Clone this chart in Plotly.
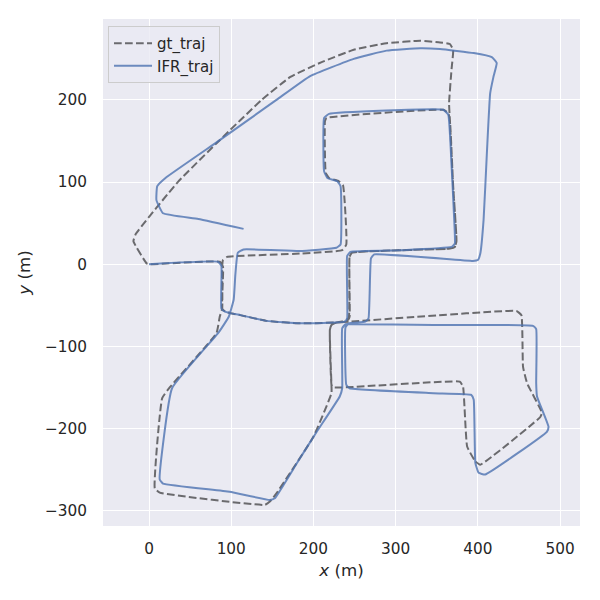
import plotly.graph_objects as go

# ground-truth trajectory (m)
gt_x = [0, 86, 90, 89, 93, 111, 143, 184, 238, 243, 244, 247, 306, 366, 372, 374, 370, 366, 364, 358,
        216, 214, 215, 219, 231, 236, 240, 235, 184, 107, 95, 90, 89, 89, 86, 82, 26, 16, 7, 13,
        141, 147, 155, 200, 222, 222, 220, 222, 228, 244, 326, 447, 453, 455, 460, 478, 476, 403, 397, 387,
        382, 378, 224, 222, 220, 222, 228, 242, 244, 244, 247, 306, 366, 372, 374, 370, 366, 365, 368, 370,
        366, 354, 330, 289, 249, 210, 172, 137, 86, 35, -16, -19, -3, 0]
gt_y = [0, 3, -3, -54, -58, -62, -69, -72, -70, -65, 9, 14, 17, 19, 21, 28, 95, 176, 184, 188,
        178, 174, 111, 105, 101, 96, 24, 17, 13, 10, 9, 5, -3, -54, -64, -84, -149, -163, -273, -278,
        -293, -289, -279, -210, -157, -149, -80, -74, -71, -70, -64, -57, -62, -125, -145, -181, -186, -244, -240, -222,
        -149, -143, -150, -147, -80, -74, -71, -68, -64, 9, 14, 17, 19, 21, 28, 95, 176, 196, 237, 261,
        268, 270, 272, 269, 261, 246, 228, 200, 151, 100, 37, 28, 1, 0]

# estimated (IFR) trajectory (m)
ifr_x = [0, 84, 88, 88, 93, 111, 143, 184, 238, 241, 241, 245, 306, 368, 372, 371, 368, 364, 358, 219,
         213, 213, 217, 229, 233, 233, 228, 183, 115, 108, 105, 103, 97, 84, 28, 13, 17, 98, 147, 153,
         180, 204, 232, 235, 235, 239, 246, 346, 467, 471, 471, 472, 486, 484, 409, 401, 397, 395, 392, 346,
         244, 240, 239, 243, 263, 267, 270, 274, 394, 400, 403, 407, 411, 415, 419, 423, 417, 395, 354, 330,
         289, 249, 196, 155, 86, 20, 10, 9, 17, 60, 115]
ifr_y = [0, 3, -2, -54, -58, -62, -69, -72, -70, -66, 10, 15, 17, 21, 25, 60, 121, 182, 188, 183,
         178, 113, 105, 101, 95, 24, 20, 16, 18, 14, -13, -43, -64, -84, -151, -262, -267, -277, -287, -285,
         -242, -204, -161, -151, -78, -73, -73, -74, -75, -79, -145, -161, -198, -204, -256, -254, -242, -165, -159, -157,
         -151, -147, -77, -72, -70, -66, 7, 12, 4, 5, 13, 54, 135, 208, 228, 245, 252, 257, 262, 263,
         260, 250, 229, 200, 151, 105, 95, 78, 62, 55, 43]

x_ticks = [0, 100, 200, 300, 400, 500]
y_ticks = [-300, -200, -100, 0, 100, 200]

FONT = "DejaVu Sans"
TXT = "#262626"

fig = go.Figure()
fig.add_trace(go.Scatter(
    x=gt_x, y=gt_y, mode="lines", name="gt_traj",
    line=dict(color="rgba(0,0,0,0.55)", width=2, dash="7.7px,3.3px",
              shape="spline", smoothing=0.35),
))
fig.add_trace(go.Scatter(
    x=ifr_x, y=ifr_y, mode="lines", name="IFR_traj",
    line=dict(color="rgba(76,114,176,0.8)", width=2, shape="spline", smoothing=0.35),
))

axis_common = dict(
    showgrid=True, gridcolor="white", gridwidth=1.3,
    zeroline=False, showline=False,
    ticks="outside", ticklen=0, tickcolor="rgba(0,0,0,0)",
    tickfont=dict(family=FONT, size=15.3, color=TXT),
)

fig.update_layout(
    width=600, height=600,
    margin=dict(l=95, r=28, t=11, b=82),
    paper_bgcolor="white", plot_bgcolor="#EAEAF2",
    font=dict(family=FONT, color=TXT),
    showlegend=True,
    legend=dict(
        x=0.0105, y=0.986, xanchor="left", yanchor="top",
        bgcolor="rgba(234,234,242,0.8)", bordercolor="#cccccc", borderwidth=1,
        itemwidth=38,
        font=dict(family=FONT, size=15, color=TXT),
    ),
    xaxis=dict(
        range=[-56, 524.3], tickvals=x_ticks,
        title=dict(text="<i>x</i> (m)", font=dict(family=FONT, size=16.7, color=TXT), standoff=6),
        ticklabelstandoff=9,
        **axis_common,
    ),
    yaxis=dict(
        range=[-318.7, 298.5], tickvals=y_ticks,
        title=dict(text="<i>y</i> (m)", font=dict(family=FONT, size=16.7, color=TXT), standoff=10),
        ticklabelstandoff=12,
        **axis_common,
    ),
)

fig.write_html("out.html")
